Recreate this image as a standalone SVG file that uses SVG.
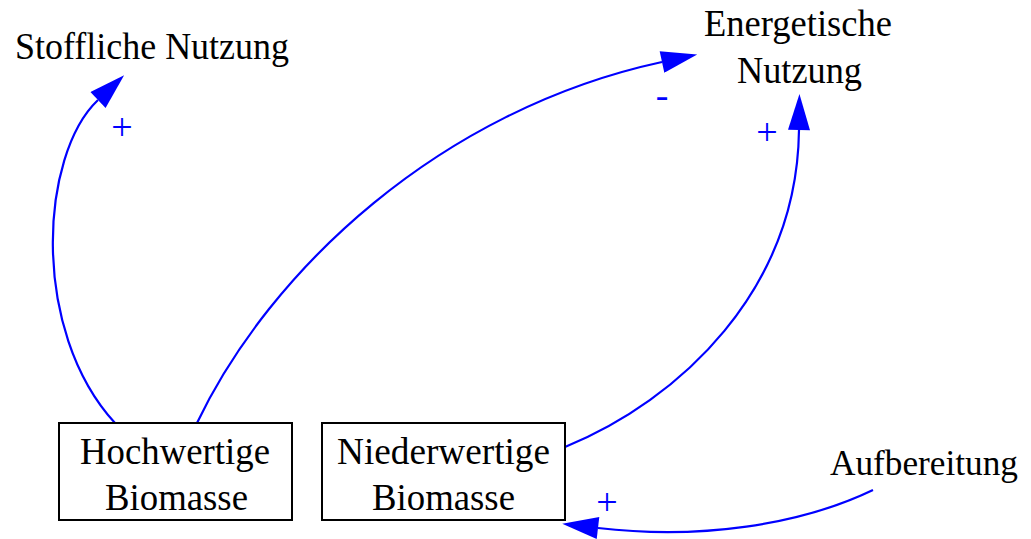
<svg xmlns="http://www.w3.org/2000/svg" width="1031" height="539" viewBox="0 0 1031 539">
<style>
.t{font-family:'Liberation Serif','Times New Roman','DejaVu Serif',serif;font-size:38px;fill:#000;text-anchor:middle}
.l{font-family:'Liberation Serif','Times New Roman','DejaVu Serif',serif;font-size:38px;fill:#0000ff;text-anchor:middle}
.box{fill:#fff;stroke:#000;stroke-width:2}
.e{fill:none;stroke:#0000ff;stroke-width:2.2;marker-end:url(#ah)}
</style>
<defs>
<marker id="ah" markerUnits="userSpaceOnUse" markerWidth="37" markerHeight="22" viewBox="0 0 36 22" refX="0" refY="11" orient="auto">
<path d="M0,0 L36,11 L0,22 z" fill="#0000ff"/>
</marker>
</defs>
<rect width="1031" height="539" fill="#fff"/>
<g id="connectors">
<path class="e" d="M115,423 C30,330 40,155 98,100"/>
<path class="e" d="M197,423 C270,270 440,110 662,62"/>
<path class="e" d="M565,447 C680,400 797,290 799,130"/>
<path class="e" d="M873,490 C800,525 700,540 598,528"/>
<text class="l" x="122" y="140">+</text>
<text class="l" x="662" y="108">-</text>
<text class="l" x="767" y="145">+</text>
<text class="l" x="607" y="515">+</text>
</g>
<g id="stoffliche">
<text class="t" x="152" y="59" textLength="274" lengthAdjust="spacingAndGlyphs">Stoffliche Nutzung</text>
</g>
<g id="energetische">
<text class="t" x="798" y="36" textLength="188" lengthAdjust="spacingAndGlyphs">Energetische</text>
<text class="t" x="799.5" y="83" textLength="125" lengthAdjust="spacingAndGlyphs">Nutzung</text>
</g>
<g id="hochwertige">
<rect class="box" x="59" y="423" width="233" height="97"/>
<text class="t" x="175" y="464" textLength="190" lengthAdjust="spacingAndGlyphs">Hochwertige</text>
<text class="t" x="176.5" y="510" textLength="143" lengthAdjust="spacingAndGlyphs">Biomasse</text>
</g>
<g id="niederwertige">
<rect class="box" x="322" y="423" width="243" height="97"/>
<text class="t" x="443.5" y="464" textLength="213" lengthAdjust="spacingAndGlyphs">Niederwertige</text>
<text class="t" x="443.5" y="510" textLength="143" lengthAdjust="spacingAndGlyphs">Biomasse</text>
</g>
<g id="aufbereitung">
<text class="t" style="font-size:36px" x="924" y="475" textLength="188" lengthAdjust="spacingAndGlyphs">Aufbereitung</text>
</g>
</svg>
